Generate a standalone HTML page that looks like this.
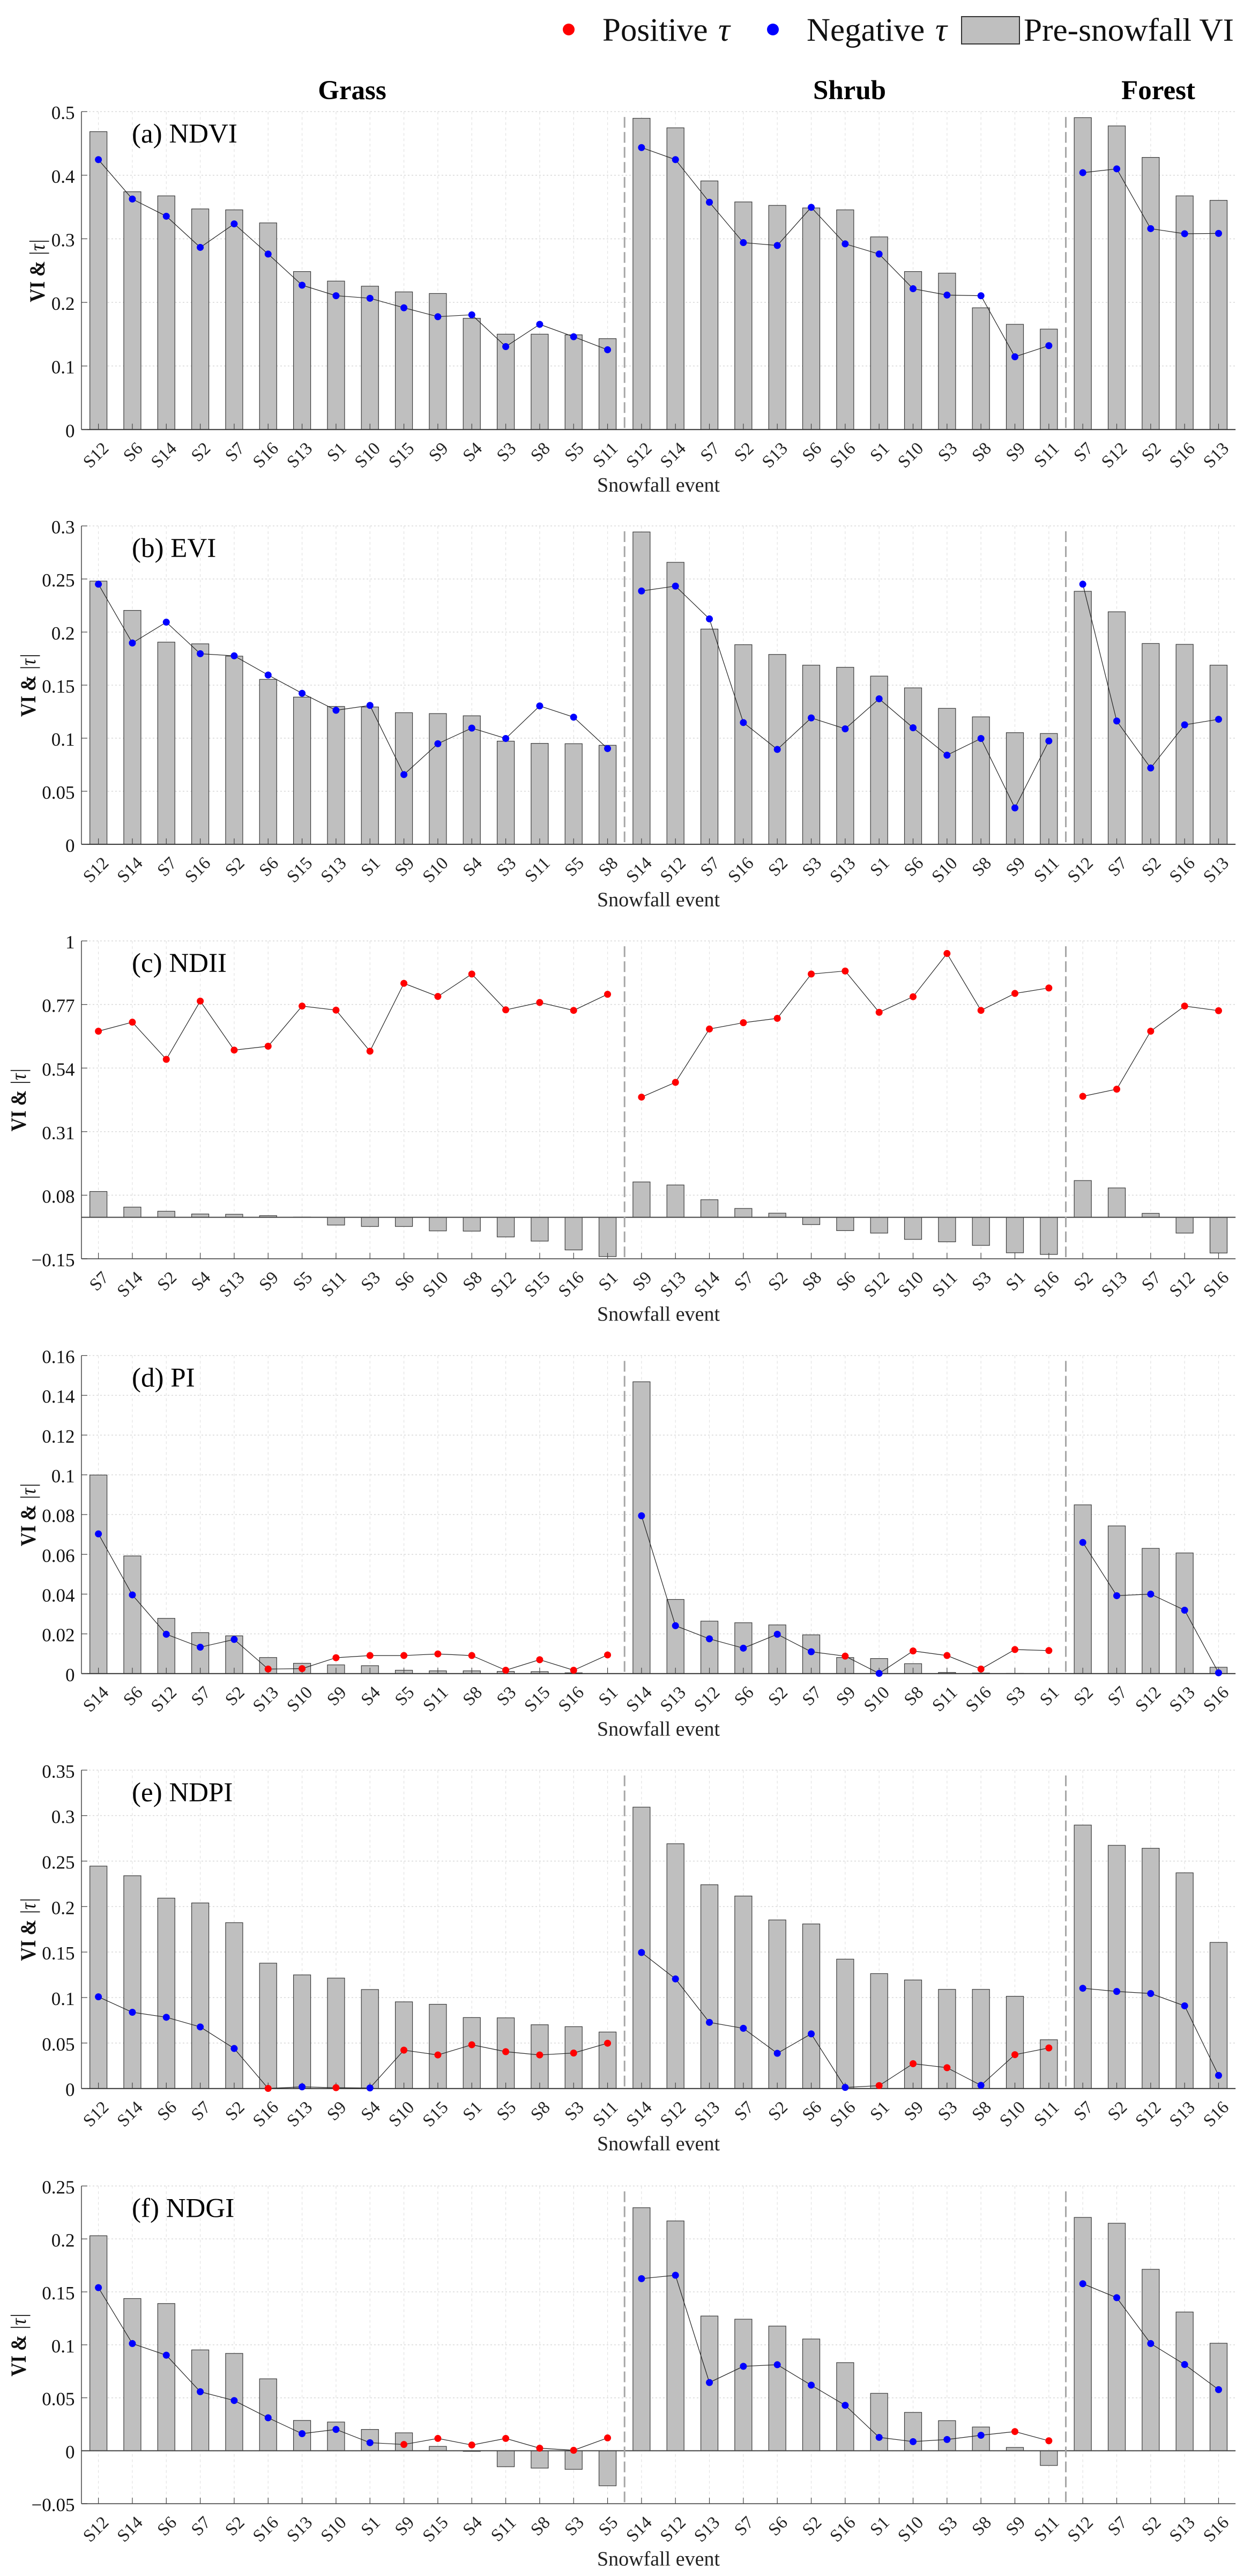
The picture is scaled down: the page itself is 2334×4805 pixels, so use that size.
<!DOCTYPE html>
<html lang="en">
<head>
<meta charset="utf-8">
<title>VI and tau by snowfall event</title>
<style>
html,body{margin:0;padding:0;background:#fff;}
svg{display:block;font-family:"Liberation Serif","Times New Roman",serif;}
</style>
</head>
<body>
<svg id="chart" xmlns="http://www.w3.org/2000/svg" width="2334" height="4805" viewBox="0 0 2334 4805">
  <rect x="0" y="0" width="2334" height="4805" fill="#ffffff"/>
  <g>
    <circle cx="1061" cy="55" r="11" fill="#ff0000"/>
    <text x="1124" y="76" font-size="61" fill="#111">Positive<tspan x="1340" font-style="italic">τ</tspan></text>
    <circle cx="1442" cy="55" r="11" fill="#0000ff"/>
    <text x="1505" y="76" font-size="61" fill="#111">Negative<tspan x="1745" font-style="italic">τ</tspan></text>
    <rect x="1794" y="31" width="108" height="51" fill="#bfbfbf" stroke="#333" stroke-width="2"/>
    <text x="1910" y="76" font-size="60" fill="#111" textLength="392" lengthAdjust="spacingAndGlyphs">Pre-snowfall VI</text>
  </g>
  <text x="657" y="185" font-size="51" font-weight="bold" text-anchor="middle" fill="#000">Grass</text>
  <text x="1585" y="185" font-size="51" font-weight="bold" text-anchor="middle" fill="#000">Shrub</text>
  <text x="2161" y="185" font-size="51" font-weight="bold" text-anchor="middle" fill="#000">Forest</text>
</svg>
<script>
// ---------- data: categories, pre-snowfall VI bars, signed tau (sign picks the colour) ----------
const groupSizes = [16, 13, 5];

const ndviEvents = ["S12","S6","S14","S2","S7","S16","S13","S1","S10","S15","S9","S4","S3","S8","S5","S11",
  "S12","S14","S7","S2","S13","S6","S16","S1","S10","S3","S8","S9","S11",
  "S7","S12","S2","S16","S13"];
const ndviBars = [.4685,.374,.3675,.347,.3455,.325,.2485,.2335,.2255,.2165,.214,.175,.15,.15,.149,.143,
  .4895,.4745,.391,.358,.3525,.3485,.3455,.303,.2485,.246,.1915,.1655,.158,
  .4905,.4775,.428,.3675,.3605];
const ndviTau = [-.4245,-.3625,-.3355,-.2865,-.3235,-.276,-.227,-.2105,-.2065,-.1915,-.1775,-.1805,-.1305,-.1655,-.146,-.1255,
  -.4435,-.4245,-.3575,-.294,-.2895,-.3495,-.292,-.276,-.2215,-.2115,-.2105,-.1145,-.132,
  -.404,-.41,-.316,-.308,-.3085];
const ndviTicks = [0,.1,.2,.3,.4,.5];
const ndviTickLabels = ["0","0.1","0.2","0.3","0.4","0.5"];

const eviEvents = ["S12","S14","S7","S16","S2","S6","S15","S13","S1","S9","S10","S4","S3","S11","S5","S8",
  "S14","S12","S7","S16","S2","S3","S13","S1","S6","S10","S8","S9","S11",
  "S12","S7","S2","S16","S13"];
const eviBars = [.248,.2204,.1905,.1889,.1773,.1554,.1387,.1299,.1294,.124,.1232,.1211,.0972,.0951,.0948,.0933,
  .2943,.2657,.2028,.1881,.1789,.1688,.1668,.1585,.1474,.1281,.1201,.1052,.1044,
  .2384,.2191,.1892,.1884,.1688];
const eviTau = [-.2451,-.1897,-.2093,-.1796,-.1776,-.1595,-.1423,-.1263,-.1309,-.0657,-.0948,-.1095,-.0997,-.1304,-.1198,-.0902,
  -.2387,-.2433,-.2124,-.1147,-.0894,-.1191,-.1088,-.1371,-.1098,-.084,-.0997,-.0343,-.0974,
  -.2451,-.1162,-.0719,-.1126,-.1178];
const eviTicks = [0,.05,.1,.15,.2,.25,.3];
const eviTickLabels = ["0","0.05","0.1","0.15","0.2","0.25","0.3"];

const ndiiEvents = ["S7","S14","S2","S4","S13","S9","S5","S11","S3","S6","S10","S8","S12","S15","S16","S1",
  "S9","S13","S14","S7","S2","S8","S6","S12","S10","S11","S3","S1","S16",
  "S2","S13","S7","S12","S16"];
const ndiiBars = [.0934,.037,.022,.012,.011,.006,.001,-.028,-.033,-.033,-.049,-.05,-.071,-.086,-.118,-.142,
  .128,.117,.0637,.032,.015,-.0263,-.0481,-.057,-.0798,-.0887,-.1016,-.1283,-.1342,
  .133,.1063,.0143,-.057,-.1291];
const ndiiTau = [.6734,.706,.5715,.7823,.6051,.619,.7644,.7496,.6011,.8466,.7991,.8802,.7506,.7773,.7486,.807,
  .4349,.4883,.6813,.7041,.7199,.8802,.8911,.7417,.7981,.9545,.7486,.81,.8298,
  .4378,.4636,.6734,.7644,.7476];
const ndiiTicks = [-.15,.08,.31,.54,.77,1];
const ndiiTickLabels = ["\u22120.15","0.08","0.31","0.54","0.77","1"];

const piEvents = ["S14","S6","S12","S7","S2","S13","S10","S9","S4","S5","S11","S8","S3","S15","S16","S1",
  "S14","S13","S12","S6","S2","S7","S9","S10","S8","S11","S16","S3","S1",
  "S2","S7","S12","S13","S16"];
const piBars = [.0999,.0592,.0278,.0206,.019,.0081,.0052,.0044,.004,.0017,.0014,.0014,.0011,.001,.0004,0,
  .1468,.0373,.0264,.0256,.0245,.0195,.0081,.0076,.005,.0006,.0003,.0001,0,
  .0849,.0743,.063,.0607,.0032];
const piTau = [-.0703,-.0396,-.0198,-.0133,-.0172,.0023,.0025,.008,.0091,.0091,.0099,.0091,.0017,.007,.0017,.0094,
  -.0794,-.0241,-.0175,-.0128,-.0198,-.011,.0088,-.0001,.0114,.0091,.0023,.0121,.0116,
  -.066,-.0392,-.04,-.0319,-.0004];
const piTicks = [0,.02,.04,.06,.08,.1,.12,.14,.16];
const piTickLabels = ["0","0.02","0.04","0.06","0.08","0.1","0.12","0.14","0.16"];

const ndpiEvents = ["S12","S14","S6","S7","S2","S16","S13","S9","S4","S10","S15","S1","S5","S8","S3","S11",
  "S14","S12","S13","S7","S2","S6","S16","S1","S9","S3","S8","S10","S11",
  "S7","S2","S12","S13","S16"];
const ndpiBars = [.2445,.2339,.2093,.204,.1823,.1378,.1249,.1214,.1088,.0953,.0926,.078,.0777,.0701,.068,.0621,
  .3093,.2691,.224,.2116,.1853,.1809,.1422,.1263,.1193,.109,.109,.1014,.0536,
  .2896,.2673,.2641,.2371,.1606];
const ndpiTau = [-.1008,-.0838,-.0783,-.0677,-.044,.0001,-.0018,.0009,-.0006,.0422,.0369,.0481,.0405,.0369,.039,.0498,
  -.1495,-.1205,-.0727,-.0662,-.0387,-.0601,-.0012,.0032,.0273,.0229,-.0035,.0372,.0446,
  -.1102,-.1067,-.1044,-.0909,-.0144];
const ndpiTicks = [0,.05,.1,.15,.2,.25,.3,.35];
const ndpiTickLabels = ["0","0.05","0.1","0.15","0.2","0.25","0.3","0.35"];

const ndgiEvents = ["S12","S14","S6","S7","S2","S16","S13","S10","S1","S9","S15","S4","S11","S8","S3","S5",
  "S14","S12","S13","S7","S6","S2","S16","S1","S10","S3","S8","S9","S11",
  "S12","S7","S2","S13","S16"];
const ndgiBars = [.203,.1437,.139,.0952,.0919,.0679,.0286,.0271,.0201,.0169,.0041,-.0006,-.0151,-.0164,-.0176,-.0331,
  .2295,.217,.1272,.1242,.1177,.1055,.0832,.0542,.0362,.0284,.0224,.0031,-.0139,
  .2203,.2148,.1713,.131,.1015];
const ndgiTau = [-.154,-.1012,-.0902,-.0557,-.0474,-.0311,-.0161,-.0201,-.0076,.0059,.0116,.0054,.0116,.0024,.0004,.0121,
  -.1625,-.1657,-.0644,-.0797,-.0812,-.0619,-.0429,-.0126,-.0086,-.0106,-.0146,.0181,.0094,
  -.1577,-.1445,-.1012,-.0814,-.0577];
const ndgiTicks = [-.05,0,.05,.1,.15,.2,.25];
const ndgiTickLabels = ["\u22120.05","0","0.05","0.1","0.15","0.2","0.25"];

// ---------- drawing ----------
const SVG_NS = "http://www.w3.org/2000/svg";
const chart = document.getElementById("chart");

function make(tag, attrs, parent) {
  const node = document.createElementNS(SVG_NS, tag);
  for (const key in attrs) node.setAttribute(key, attrs[key]);
  parent.appendChild(node);
  return node;
}

const X_FIRST = 183.6, X_STEP = 63.33, BAR_WIDTH = 32;
function xScale(i) { return X_FIRST + i * X_STEP; }
function makeYScale(top, bottom, min, max) {
  return function (v) { return bottom - (v - min) / (max - min) * (bottom - top); };
}

function drawPanel(p) {
  const y = makeYScale(p.top, p.bottom, p.ticks[0], p.ticks[p.ticks.length - 1]);
  const xLeft = xScale(-0.5), xRight = xScale(33.5);
  const g = make("g", {}, chart);
  
  

  // grid
  p.ticks.forEach(function (t) {
    const el = make("line", {x1: xLeft, x2: xRight, y1: y(t), y2: y(t), stroke: "#d8d8d8", "stroke-width": 1.5, "stroke-dasharray": "3 4"}, g);
    
    
  });
  p.events.forEach(function (name, i) {
    const el = make("line", {x1: xScale(i), x2: xScale(i), y1: p.top, y2: p.bottom, stroke: "#e2e2e2", "stroke-width": 1.2, "stroke-dasharray": "5 5"}, g);
    
    
  });

  // bars
  const zeroY = y(0);
  p.bars.forEach(function (v, i) {
    const yv = y(v);
    const el = make("rect", {x: xScale(i) - BAR_WIDTH / 2, y: Math.min(yv, zeroY), width: BAR_WIDTH, height: Math.abs(zeroY - yv), fill: "#bfbfbf", stroke: "#3a3a3a", "stroke-width": 1.2}, g);
    
    
  });

  // axes and ticks
  const leftAxis = make("line", {x1: xLeft, x2: xLeft, y1: p.top, y2: p.bottom, stroke: "#444", "stroke-width": 1.5}, g);
  
  
  const bottomAxis = make("line", {x1: xLeft, x2: xRight, y1: p.bottom, y2: p.bottom, stroke: p.ticks[0] < 0 ? "#666" : "#333", "stroke-width": 2}, g);
  
  
  if (p.ticks[0] < 0) {
    const zeroLine = make("line", {x1: xLeft, x2: xRight, y1: zeroY, y2: zeroY, stroke: "#444", "stroke-width": 2}, g);
    
    
  }
  p.ticks.forEach(function (t, k) {
    const tick = make("line", {x1: xLeft, x2: xLeft + 11, y1: y(t), y2: y(t), stroke: "#444", "stroke-width": 1.2}, g);
    
    
    const label = make("text", {x: 139.5, y: y(t) + 14, "font-size": 35, "text-anchor": "end", fill: "#111"}, g);
    label.textContent = p.tickLabels[k];
    
    
  });
  p.events.forEach(function (name, i) {
    const tick = make("line", {x1: xScale(i), x2: xScale(i), y1: p.bottom - 11, y2: p.bottom, stroke: "#444", "stroke-width": 1.2}, g);
    
    
    const ax = xScale(i) + 21, ay = p.bottom + 37;
    const label = make("text", {x: ax, y: ay, "font-size": 33, "text-anchor": "end", fill: "#222", transform: "rotate(-45 " + ax + " " + ay + ")"}, g);
    label.textContent = name;
    
    
  });

  // land-cover separators
  let boundary = -0.5;
  groupSizes.slice(0, -1).forEach(function (size) {
    boundary += size;
    const el = make("line", {x1: xScale(boundary), x2: xScale(boundary), y1: p.top + 10, y2: p.bottom, stroke: "#a6a6a6", "stroke-width": 3, "stroke-dasharray": "20 8"}, g);
    
    
  });

  // tau lines, one per land-cover group
  let start = 0;
  groupSizes.forEach(function (size) {
    const pts = [];
    for (let i = start; i < start + size; i++) pts.push(xScale(i).toFixed(1) + "," + y(Math.abs(p.tau[i])).toFixed(1));
    const el = make("polyline", {points: pts.join(" "), fill: "none", stroke: "#222", "stroke-width": 1.2}, g);
    
    
    start += size;
  });

  // tau markers
  p.tau.forEach(function (v, i) {
    const el = make("circle", {cx: xScale(i), cy: y(Math.abs(v)), r: 6.5, fill: v >= 0 ? "#ff0000" : "#0000ff"}, g);
    
    
  });

  // panel label
  const title = make("text", {x: 246, y: p.top + 58, "font-size": 51, fill: "#000"}, g);
  title.textContent = p.title;
  
  

  // y-axis title
  const cy = (p.top + p.bottom) / 2;
  const yTitle = make("text", {x: p.yTitleX, y: cy, "font-size": 40, "text-anchor": "middle", fill: "#111", textLength: 118, lengthAdjust: "spacingAndGlyphs", transform: "rotate(-90 " + p.yTitleX + " " + cy + ")"}, g);
  
  
  const viPart = make("tspan", {"font-weight": "bold"}, yTitle);
  viPart.textContent = "VI & ";
  const tauPart = make("tspan", {"font-style": "italic"}, yTitle);
  tauPart.textContent = "|τ|";

  // x-axis title
  const xTitle = make("text", {x: (xLeft + xRight) / 2, y: p.bottom + 115.5, "font-size": 38, "text-anchor": "middle", fill: "#222"}, g);
  xTitle.textContent = "Snowfall event";
  
  
}

drawPanel({key: "ndvi", title: "(a) NDVI", top: 208.2, bottom: 801.3, yTitleX: 83, events: ndviEvents, bars: ndviBars, tau: ndviTau, ticks: ndviTicks, tickLabels: ndviTickLabels});
drawPanel({key: "evi", title: "(b) EVI", top: 981, bottom: 1574.9, yTitleX: 66, events: eviEvents, bars: eviBars, tau: eviTau, ticks: eviTicks, tickLabels: eviTickLabels});
drawPanel({key: "ndii", title: "(c) NDII", top: 1755.1, bottom: 2348, yTitleX: 48, events: ndiiEvents, bars: ndiiBars, tau: ndiiTau, ticks: ndiiTicks, tickLabels: ndiiTickLabels});
drawPanel({key: "pi", title: "(d) PI", top: 2528.5, bottom: 3121.8, yTitleX: 66, events: piEvents, bars: piBars, tau: piTau, ticks: piTicks, tickLabels: piTickLabels});
drawPanel({key: "ndpi", title: "(e) NDPI", top: 3301.8, bottom: 3895.7, yTitleX: 66, events: ndpiEvents, bars: ndpiBars, tau: ndpiTau, ticks: ndpiTicks, tickLabels: ndpiTickLabels});
drawPanel({key: "ndgi", title: "(f) NDGI", top: 4077.5, bottom: 4670.1, yTitleX: 48, events: ndgiEvents, bars: ndgiBars, tau: ndgiTau, ticks: ndgiTicks, tickLabels: ndgiTickLabels});
</script>
</body>
</html>
